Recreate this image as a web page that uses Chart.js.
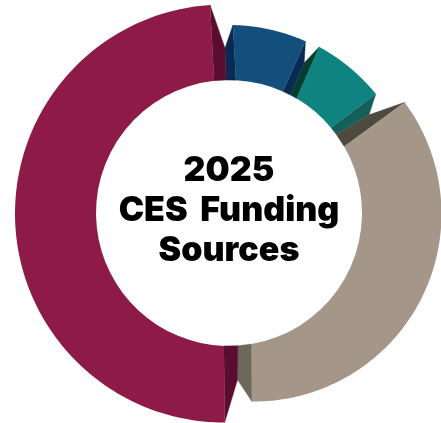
<!DOCTYPE html>
<html>
<head>
<meta charset="utf-8">
<style>
  html, body { margin: 0; padding: 0; background: #fff; }
  canvas { display: block; }
</style>
<script src="https://cdn.jsdelivr.net/npm/chart.js@4"></script>
</head>
<body>
<canvas id="funding" width="441" height="423"></canvas>
<script>
// Funding shares, percent, clockwise from the top
const sources = ['Blue source', 'Teal source', 'Taupe source', 'Crimson source'];
const shares = [8, 7.3, 34, 50.7];
const titleLines = ['2025', 'CES Funding', 'Sources'];

// Slice colours: lit face, then the shaded start and end folds
const faceColors = ['#124F7D', '#0F837F', '#A4978A', '#8D1A47'];
const startFoldColors = ['#0A2A54', '#053D33', '#4F4A40', '#5B0D30'];
const endFoldColors = ['#0A2A54', '#135F59', '#6C685B', '#5B0D30'];

// Outer rim of every slice: a circle, offset from the ring centre
const rimOffsets = [[0, 0], [0, 0], [25, 1], [-5, 0.5]];
const rimRadii = [188, 189, 187.5, 209];

// Face corners relative to the slice boundaries, degrees
const startInner = [4.3, 3.1, 6.2, 6.0];
const startOuter = [2.5, 1.0, 4.0, 5.0];
const endInner = [-3.6, -3.7, -6.0, -5.1];
const endOuter = [-3.5, -2.8, -3.1, -3.9];

// Crease between a slice and its neighbour: angle shift and radius at each slice's start
const creaseShift = [-0.1, -0.9, 1.2, 0.9];
const creaseRadius = [165, 168, 171, 167];

const RAD = Math.PI / 180;

class SculptedDoughnut extends Chart.DoughnutController {
  static id = 'sculptedDoughnut';

  rimPoint(arc, i, angle) {
    const [ox, oy] = rimOffsets[i];
    const c = Math.cos(angle), s = Math.sin(angle);
    const b = c * ox + s * oy;
    const t = b + Math.sqrt(b * b - ox * ox - oy * oy + rimRadii[i] * rimRadii[i]);
    return [arc.x + c * t, arc.y + s * t];
  }

  polar(arc, angle, r) {
    return [arc.x + Math.cos(angle) * r, arc.y + Math.sin(angle) * r];
  }

  polygon(ctx, points, color) {
    ctx.beginPath();
    points.forEach((p, k) => (k ? ctx.lineTo(p[0], p[1]) : ctx.moveTo(p[0], p[1])));
    ctx.closePath();
    ctx.fillStyle = color;
    ctx.strokeStyle = color;
    ctx.lineWidth = 0.4;
    ctx.fill();
    ctx.stroke();
  }

  draw() {
    const ctx = this.chart.ctx;
    const arcs = this._cachedMeta.data;
    const n = arcs.length;
    arcs.forEach((arc, i) => {
      const a0 = arc.startAngle, a1 = arc.endAngle, rIn = arc.innerRadius;
      const s0 = a0 + startInner[i] * RAD, s1 = a0 + startOuter[i] * RAD;
      const e0 = a1 + endInner[i] * RAD, e1 = a1 + endOuter[i] * RAD;
      const next = (i + 1) % n;

      // Shaded folds on both sides of the face
      this.polygon(ctx, [
        this.polar(arc, s0, rIn), this.rimPoint(arc, i, s1),
        this.polar(arc, a0 + creaseShift[i] * RAD, creaseRadius[i]), this.polar(arc, a0, rIn)
      ], startFoldColors[i]);
      this.polygon(ctx, [
        this.polar(arc, e0, rIn), this.rimPoint(arc, i, e1),
        this.polar(arc, a1 + creaseShift[next] * RAD, creaseRadius[next]), this.polar(arc, a1, rIn)
      ], endFoldColors[i]);

      // Lit face: sampled outer rim, then back along the hole
      ctx.beginPath();
      const steps = 120;
      for (let k = 0; k <= steps; k++) {
        const p = this.rimPoint(arc, i, s1 + (e1 - s1) * k / steps);
        k ? ctx.lineTo(p[0], p[1]) : ctx.moveTo(p[0], p[1]);
      }
      ctx.arc(arc.x, arc.y, rIn, e0, s0, true);
      ctx.closePath();
      ctx.fillStyle = arc.options.backgroundColor;
      ctx.fill();
    });
  }
}
Chart.register(SculptedDoughnut);

const centreTitle = {
  id: 'centreTitle',
  afterDatasetsDraw(chart) {
    const arc = chart.getDatasetMeta(0).data[0];
    const ctx = chart.ctx;
    ctx.save();
    ctx.fillStyle = '#000';
    ctx.textAlign = 'center';
    ctx.textBaseline = 'alphabetic';
    ctx.font = '900 34px Inter, "Liberation Sans", sans-serif';
    ctx.wordSpacing = '6px';
    titleLines.forEach((line, k) => ctx.fillText(line, arc.x, arc.y - 32.5 + k * 40));
    ctx.restore();
  }
};

new Chart(document.getElementById('funding'), {
  type: 'sculptedDoughnut',
  data: {
    labels: sources,
    datasets: [{ data: shares, backgroundColor: faceColors, borderWidth: 0, clip: false }]
  },
  options: {
    responsive: false,
    animation: false,
    rotation: -1.3,
    cutout: 133,
    radius: 210,
    layout: { padding: { left: 17, top: 3 } },
    plugins: { legend: { display: false }, tooltip: { enabled: false } }
  },
  plugins: [centreTitle]
});
</script>
</body>
</html>
